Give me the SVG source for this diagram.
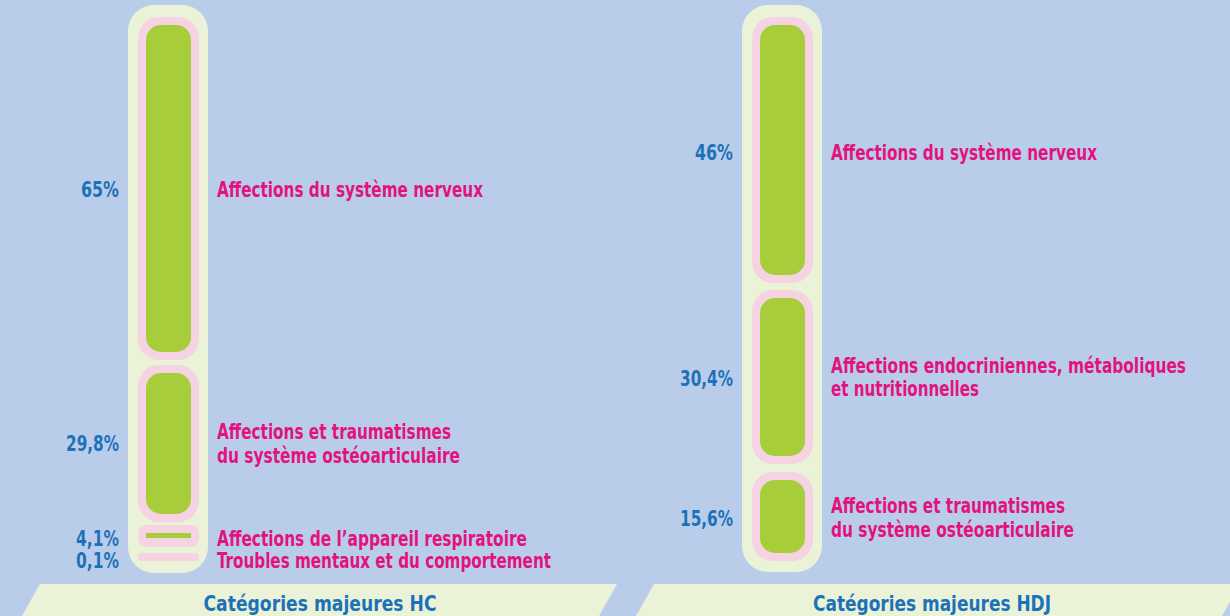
<svg xmlns="http://www.w3.org/2000/svg" width="1230" height="616" viewBox="0 0 1230 616">
<style>
.bg{fill:#b9cdeb}
.tube{fill:#eaf3d8}
.ring{fill:#f6d3e2}
.fill{fill:#a8cd3b}
.banner{fill:#eaf3d8}
text{font-family:"Liberation Sans Narrow","DejaVu Sans Condensed","Liberation Sans",sans-serif;font-weight:bold;font-size:21px}
.pct{fill:#1d71b8;text-anchor:end}
.lab{fill:#e2137e}
.ttl{fill:#1d71b8;text-anchor:middle;font-size:22px}
</style>
<rect class="bg" x="0" y="0" width="1230" height="616"/>
<g id="chart-hc">
  <rect class="tube" x="128" y="5" width="80" height="568" rx="26"/>
  <g id="hc-nerveux">
    <rect class="ring" x="138" y="17" width="61" height="343" rx="21"/>
    <rect class="fill" x="146" y="25" width="45" height="327" rx="15"/>
    <text class="pct" x="119" y="197" textLength="38" lengthAdjust="spacingAndGlyphs">65%</text>
    <text class="lab" x="217" y="197" textLength="266" lengthAdjust="spacingAndGlyphs">Affections du système nerveux</text>
  </g>
  <g id="hc-osteo">
    <rect class="ring" x="138" y="365" width="61" height="157" rx="21"/>
    <rect class="fill" x="146" y="373" width="45" height="141" rx="15"/>
    <text class="pct" x="119" y="451" textLength="53" lengthAdjust="spacingAndGlyphs">29,8%</text>
    <text class="lab" x="217" y="439" textLength="234" lengthAdjust="spacingAndGlyphs">Affections et traumatismes</text>
    <text class="lab" x="217" y="463" textLength="243" lengthAdjust="spacingAndGlyphs">du système ostéoarticulaire</text>
  </g>
  <g id="hc-respi">
    <rect class="ring" x="138" y="525" width="61" height="22" rx="8"/>
    <rect class="fill" x="146" y="533" width="45" height="5"/>
    <text class="pct" x="119" y="546" textLength="43" lengthAdjust="spacingAndGlyphs">4,1%</text>
    <text class="lab" x="217" y="546" textLength="310" lengthAdjust="spacingAndGlyphs">Affections de l’appareil respiratoire</text>
  </g>
  <g id="hc-mentaux">
    <rect class="ring" x="138" y="553" width="61" height="8" rx="4"/>
    <text class="pct" x="119" y="568" textLength="43" lengthAdjust="spacingAndGlyphs">0,1%</text>
    <text class="lab" x="217" y="568" textLength="334" lengthAdjust="spacingAndGlyphs">Troubles mentaux et du comportement</text>
  </g>
  <g id="hc-banner">
    <polygon class="banner" points="40,584 617,584 599,616 22,616"/>
    <text class="ttl" x="320" y="611" textLength="233" lengthAdjust="spacingAndGlyphs">Catégories majeures HC</text>
  </g>
</g>
<g id="chart-hdj">
  <rect class="tube" x="742" y="5" width="80" height="567" rx="26"/>
  <g id="hdj-nerveux">
    <rect class="ring" x="752" y="17" width="61" height="266" rx="21"/>
    <rect class="fill" x="760" y="25" width="45" height="250" rx="15"/>
    <text class="pct" x="733" y="160" textLength="38" lengthAdjust="spacingAndGlyphs">46%</text>
    <text class="lab" x="831" y="160" textLength="266" lengthAdjust="spacingAndGlyphs">Affections du système nerveux</text>
  </g>
  <g id="hdj-endoc">
    <rect class="ring" x="752" y="290" width="61" height="174" rx="21"/>
    <rect class="fill" x="760" y="298" width="45" height="158" rx="15"/>
    <text class="pct" x="733" y="386" textLength="53" lengthAdjust="spacingAndGlyphs">30,4%</text>
    <text class="lab" x="831" y="373" textLength="355" lengthAdjust="spacingAndGlyphs">Affections endocriniennes, métaboliques</text>
    <text class="lab" x="831" y="396" textLength="148" lengthAdjust="spacingAndGlyphs">et nutritionnelles</text>
  </g>
  <g id="hdj-osteo">
    <rect class="ring" x="752" y="472" width="61" height="89" rx="21"/>
    <rect class="fill" x="760" y="480" width="45" height="73" rx="15"/>
    <text class="pct" x="733" y="526" textLength="53" lengthAdjust="spacingAndGlyphs">15,6%</text>
    <text class="lab" x="831" y="513" textLength="234" lengthAdjust="spacingAndGlyphs">Affections et traumatismes</text>
    <text class="lab" x="831" y="537" textLength="243" lengthAdjust="spacingAndGlyphs">du système ostéoarticulaire</text>
  </g>
  <g id="hdj-banner">
    <polygon class="banner" points="654,584 1240,584 1222,616 636,616"/>
    <text class="ttl" x="932" y="611" textLength="238" lengthAdjust="spacingAndGlyphs">Catégories majeures HDJ</text>
  </g>
</g>
<g id="connectors"></g>
</svg>
